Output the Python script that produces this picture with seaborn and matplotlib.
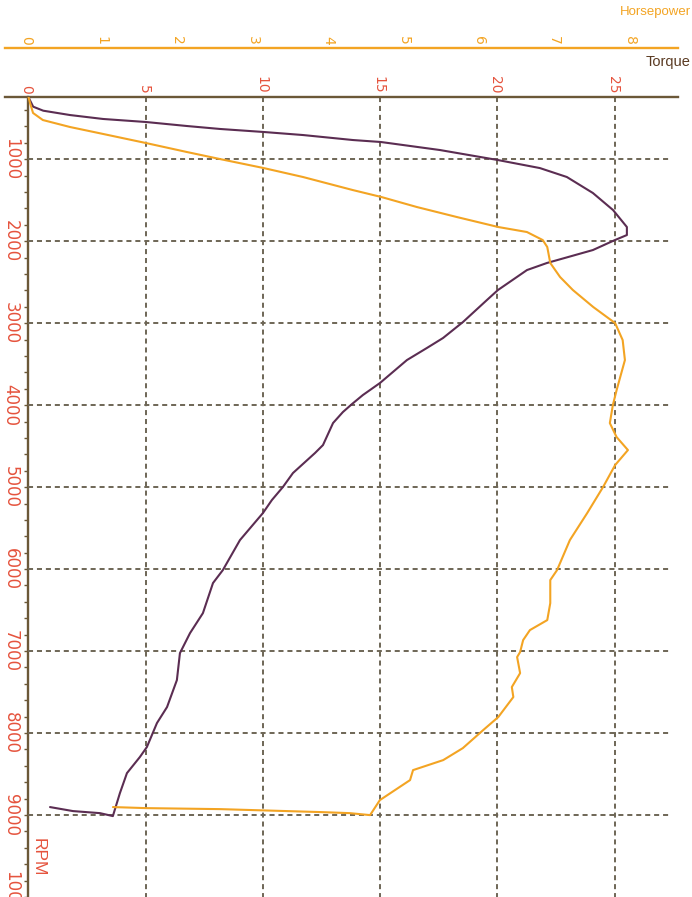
import matplotlib
matplotlib.use("Agg")
import matplotlib.pyplot as plt
from matplotlib.ticker import FixedLocator
from matplotlib.transforms import ScaledTranslation
import pandas as pd
import seaborn as sns

sns.set_theme(style="white")
plt.rcParams["font.family"] = ["DejaVu Sans"]
TITLE_FONT = ["Liberation Sans", "DejaVu Sans"]

# Dyno run: torque (N·m) against engine speed, including the closing run-down
torque_rpm = [241, 278, 359, 408, 461, 509, 546, 595, 631, 668, 705, 766, 790, 888,
              1010, 1108, 1217, 1412, 1620, 1827, 1925, 1986, 2108, 2266, 2352, 2596,
              2718, 2986, 3181, 3303, 3450, 3730, 3877, 3986, 4084, 4218, 4487, 4584,
              4828, 4999, 5158, 5316, 5646, 6012, 6170, 6537, 6781, 7025, 7354, 7683,
              7878, 8171, 8293, 8489, 8733, 9013, 8977, 8952, 8903]
torque_nm = [0.0, 0.06, 0.20, 0.63, 1.77, 3.18, 5.01, 6.76, 8.17, 10.04, 11.71, 13.84,
             15.03, 17.55, 20.02, 21.81, 22.96, 24.07, 24.93, 25.52, 25.52, 25.01, 24.07,
             22.11, 21.26, 20.02, 19.55, 18.53, 17.68, 16.99, 16.14, 14.99, 14.26, 13.80,
             13.41, 12.99, 12.56, 12.22, 11.28, 10.85, 10.38, 10.00, 9.02, 8.29, 7.87,
             7.44, 6.89, 6.46, 6.33, 5.91, 5.48, 5.05, 4.75, 4.20, 3.90, 3.60, 3.05,
             1.90, 0.92]

# Power (hp) against engine speed for the same run
power_rpm = [241, 314, 436, 522, 607, 692, 803, 912, 998, 1108, 1217, 1376, 1461, 1583,
             1705, 1827, 1888, 1986, 2071, 2266, 2437, 2596, 2803, 2999, 3206, 3450,
             3816, 3999, 4219, 4390, 4548, 4731, 4999, 5316, 5646, 6012, 6134, 6415,
             6622, 6744, 6866, 7012, 7073, 7269, 7439, 7561, 7805, 7964, 8184, 8330,
             8452, 8574, 8818, 9001, 8977, 8964, 8928, 8916, 8903]
power_hp = [0.0, 0.02, 0.06, 0.19, 0.55, 0.99, 1.56, 2.10, 2.54, 3.12, 3.64, 4.30, 4.68,
            5.15, 5.68, 6.23, 6.61, 6.82, 6.88, 6.92, 7.05, 7.22, 7.49, 7.78, 7.88, 7.91,
            7.80, 7.75, 7.71, 7.80, 7.95, 7.78, 7.62, 7.41, 7.18, 7.01, 6.92, 6.92, 6.88,
            6.65, 6.56, 6.52, 6.48, 6.52, 6.41, 6.43, 6.23, 6.03, 5.76, 5.50, 5.10, 5.06,
            4.66, 4.53, 4.26, 3.87, 2.54, 1.57, 1.12]

torque_ticks = [0, 5, 10, 15, 20, 25]
hp_ticks = [0, 1, 2, 3, 4, 5, 6, 7, 8]
rpm_major = [1000, 2000, 3000, 4000, 5000, 6000, 7000, 8000, 9000, 10000]
rpm_labels = [str(v) for v in rpm_major]
rpm_minor = list(range(400, 10000, 200))

df_torque = pd.DataFrame({"rpm": torque_rpm, "torque": torque_nm})
df_power = pd.DataFrame({"rpm": power_rpm, "hp": power_hp})

axis_brown = "#6b5838"
grid_col = "#6e6656"
label_red = "#e5533d"
hp_orange = "#f3a423"
torque_col = "#5b2d52"

T_LIM = (-1.0, 27.7)
HP_LIM = (-0.312, 8.614)
RPM_LIM = (10000, 241)

fig = plt.figure(figsize=(6.92, 8.97), dpi=100)
fig.patch.set_facecolor("white")
ax = fig.add_axes([5 / 692, 0.0, 673 / 692, 800 / 897])
ax.set_facecolor("white")

# dashed grid
dash = (0, (2.6, 2.0))
ax.vlines(torque_ticks[1:], RPM_LIM[1], RPM_LIM[0], colors=grid_col,
          linestyles=[dash], linewidth=1.4, zorder=1)
ax.hlines(rpm_major[:-1], 0, 27.35, colors=grid_col,
          linestyles=[dash], linewidth=1.4, zorder=1)

sns.lineplot(data=df_torque, x="torque", y="rpm", sort=False, estimator=None,
             color=torque_col, linewidth=1.5, ax=ax, zorder=3)

ax2 = ax.twiny()
sns.lineplot(data=df_power, x="hp", y="rpm", sort=False, estimator=None,
             color=hp_orange, linewidth=1.5, ax=ax2, zorder=3)

ax.set_xlim(*T_LIM)
ax2.set_xlim(*HP_LIM)
ax.set_ylim(*RPM_LIM)
for a in (ax, ax2):
    a.set_xlabel("")
    a.set_ylabel("")
    a.grid(False)

shift_left = ScaledTranslation(-2 / 100, 0, fig.dpi_scale_trans)

# torque scale along the top edge
for s in ("left", "right", "bottom"):
    ax.spines[s].set_visible(False)
ax.spines["top"].set_visible(True)
ax.spines["top"].set_color(axis_brown)
ax.spines["top"].set_linewidth(1.7)
ax.xaxis.set_ticks_position("top")
ax.set_xticks(torque_ticks)
ax.set_xticklabels([str(t) for t in torque_ticks])
ax.tick_params(axis="x", which="both", top=True, bottom=False, labeltop=True,
               labelbottom=False, length=0, pad=2.5, labelsize=10,
               labelcolor=label_red, labelrotation=-90)
for lbl in ax.get_xticklabels():
    lbl.set_transform(lbl.get_transform() + shift_left)
ax.set_yticks([])

# horsepower scale above it
for s in ("left", "right", "bottom"):
    ax2.spines[s].set_visible(False)
ax2.spines["top"].set_position(("axes", 1 + 49 / 800))
ax2.spines["top"].set_color(hp_orange)
ax2.spines["top"].set_linewidth(1.7)
ax2.set_xticks(hp_ticks)
ax2.set_xticklabels([str(h) for h in hp_ticks])
ax2.tick_params(axis="x", length=0, pad=2.2, labelsize=10, labelcolor=hp_orange,
                labelrotation=-90)
for lbl in ax2.get_xticklabels():
    lbl.set_transform(lbl.get_transform() + shift_left)

# engine speed scale on the zero-torque line
loc = (0 - T_LIM[0]) / (T_LIM[1] - T_LIM[0])
sec = ax.secondary_yaxis(loc)
sec.spines["left"].set_color(axis_brown)
sec.spines["left"].set_linewidth(1.7)
sec.set_yticks(rpm_major, labels=rpm_labels)
sec.yaxis.set_minor_locator(FixedLocator(rpm_minor))
sec.tick_params(axis="y", which="both", direction="out", length=3, width=1,
                color=axis_brown)
sec.tick_params(axis="y", which="major", labelsize=12, labelcolor=label_red,
                pad=3.3, labelrotation=-90)
for lbl in sec.get_yticklabels():
    lbl.set_va("center")

ax.text(0.1, 9513, "RPM", rotation=-90, ha="left", va="center",
        color=label_red, fontsize=12.5, family=TITLE_FONT, zorder=4)

fig.text(0.998, 1 - 62 / 897, "Torque", ha="right", va="center",
         color="#5a3a22", fontsize=10.5, family=TITLE_FONT)
fig.text(0.998, 1 - 12 / 897, "Horsepower", ha="right", va="center",
         color=hp_orange, fontsize=9.5, family=TITLE_FONT)

fig.savefig("out.png", dpi=100, facecolor="white")
